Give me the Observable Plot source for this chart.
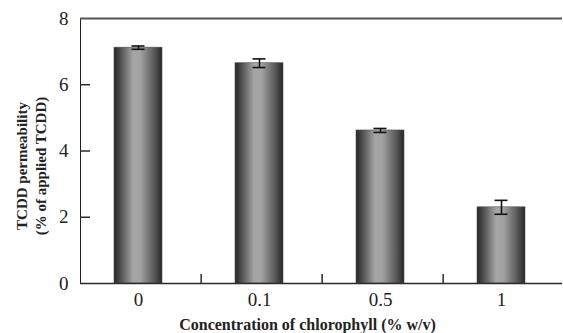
<!DOCTYPE html>
<html>
<head>
<meta charset="utf-8">
<script src="https://cdn.jsdelivr.net/npm/d3@7"></script>
<script src="https://cdn.jsdelivr.net/npm/@observablehq/plot@0.6"></script>
<style>
  html, body { margin: 0; padding: 0; background: #fff; }
</style>
</head>
<body>
<div id="chart"></div>
<script>
const categories = ["0", "0.1", "0.5", "1"];
const values = [7.12, 6.65, 4.62, 2.30];
const errors = [0.05, 0.13, 0.06, 0.21];
const yTicks = [0, 2, 4, 6, 8];
const yTitle = "TCDD permeability\n(% of applied TCDD)";
const xTitle = "Concentration of chlorophyll (% w/v)";

const data = categories.map((c, i) => ({conc: c, value: values[i], err: errors[i]}));

const W = 563, H = 333, mL = 80, mR = 1, mT = 18, mB = 50;
const pIn = 0.604, pOut = 0.289;
const step = (W - mL - mR) / (categories.length - pIn + 2 * pOut);
const plotH = H - mT - mB;
const axisColor = "#2b2b2b";

const chart = Plot.plot({
  width: W,
  height: H,
  marginLeft: mL,
  marginRight: mR,
  marginTop: mT,
  marginBottom: mB,
  style: {fontFamily: "'Liberation Serif', 'Times New Roman', serif", fontSize: "19px", color: "#222", background: "#fff"},
  x: {domain: categories, paddingInner: pIn, paddingOuter: pOut, align: 0.48, tickSize: 0, tickPadding: 8.5, label: null},
  y: {domain: [0, 8], axis: "left", line: true, ticks: yTicks, tickSize: 0, tickPadding: 12, tickFormat: d => String(d), label: null},
  marks: [
    Plot.barY(data, {x: "conc", y: "value", fill: "url(#cyl)", stroke: "#555", strokeWidth: 0.6}),
    Plot.ruleX(data, {x: "conc", y1: d => d.value - d.err, y2: d => d.value + d.err, stroke: "#111", strokeWidth: 1.6}),
    Plot.tickY(data, {x: "conc", y: d => d.value + d.err, stroke: "#111", strokeWidth: 1.6, insetLeft: 17.5, insetRight: 17.5}),
    Plot.tickY(data, {x: "conc", y: d => d.value - d.err, stroke: "#111", strokeWidth: 1.6, insetLeft: 17.5, insetRight: 17.5}),
    Plot.tickY(yTicks.slice(1, -1), {y: d => d, stroke: axisColor, strokeWidth: 1.5, insetRight: W - mL - mR - 10}),
    Plot.tickX(categories.slice(0, -1), {x: d => d, dx: step / 2 + 2, stroke: axisColor, strokeWidth: 1.5, insetTop: plotH - 9}),
    Plot.ruleY([0], {stroke: axisColor, strokeWidth: 1.6}),
    Plot.ruleY([8], {stroke: "#555", strokeWidth: 2}),
    Plot.text([yTitle], {text: d => d, frameAnchor: "left", textAnchor: "middle", rotate: -90, dx: -50.5, dy: 15, fontWeight: "bold", fontSize: 15, lineHeight: 1.3, fill: "#222"}),
    Plot.text([xTitle], {text: d => d, frameAnchor: "bottom", textAnchor: "middle", dy: 46, dx: -14, fontWeight: "bold", fontSize: 16, fill: "#222", lineAnchor: "bottom"})
  ]
});

const svg = d3.select(chart);
const defs = svg.insert("defs", ":first-child");
const grad = defs.append("linearGradient").attr("id", "cyl").attr("x1", "0").attr("x2", "1").attr("y1", "0").attr("y2", "0");
[["0%", "#262626"], ["12%", "#4a4a4a"], ["40%", "#a6a6a6"], ["55%", "#a2a2a2"], ["85%", "#555"], ["100%", "#262626"]]
  .forEach(([o, c]) => grad.append("stop").attr("offset", o).attr("stop-color", c));
svg.selectAll("[aria-label='y-axis line'] path, [aria-label='y-axis'] path").attr("stroke", axisColor).attr("stroke-width", 1.6);

document.getElementById("chart").appendChild(chart);
</script>
</body>
</html>
